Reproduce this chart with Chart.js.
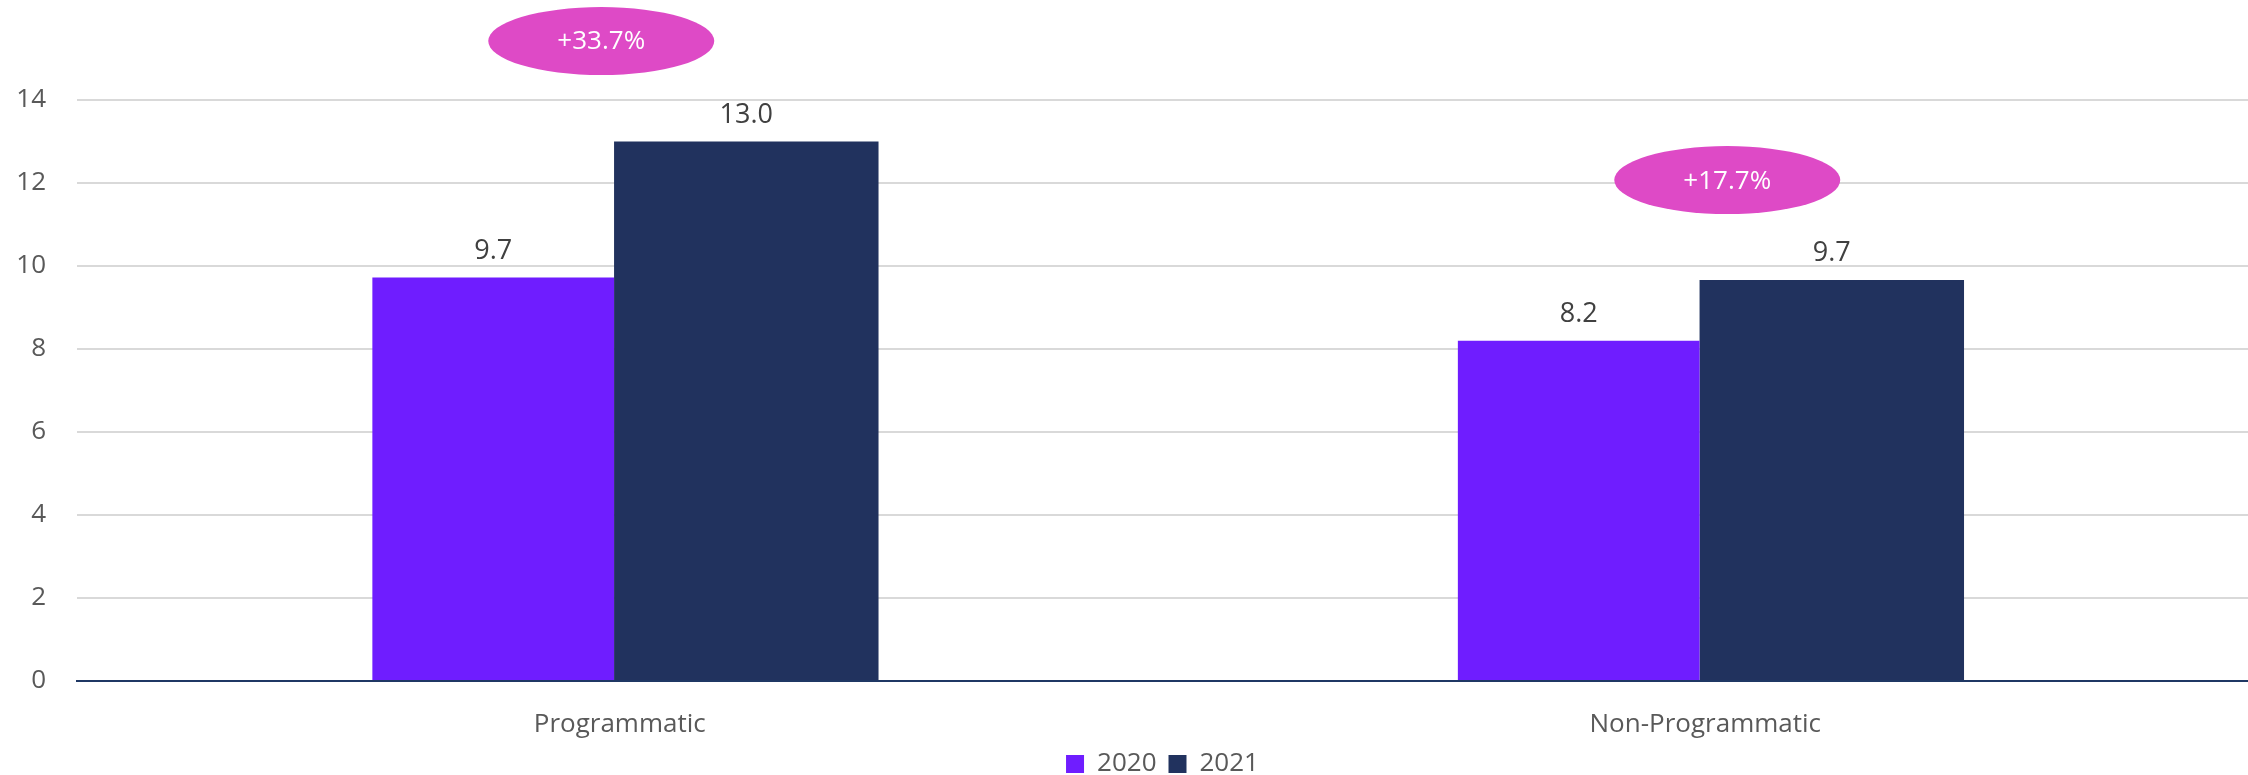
<!DOCTYPE html>
<html>
<head>
<meta charset="utf-8">
<script src="https://cdn.jsdelivr.net/npm/chart.js@4.4.1/dist/chart.umd.min.js"></script>
<style>
  html, body { margin: 0; padding: 0; background: #fff; }
  #wrap { width: 2248px; height: 775px; position: relative; }
</style>
</head>
<body>
<div id="wrap"><canvas id="myChart"></canvas></div>
<script>
// chart data
var categories = ['Programmatic', 'Non-Programmatic'];
var seriesNames = ['2020', '2021'];
var values2020 = [9.72, 8.2];
var values2021 = [13.0, 9.66];
var growthLabels = ['+33.7%', '+17.7%'];
var yTicks = [0, 2, 4, 6, 8, 10, 12, 14];

var FONT = "'Open Sans', 'Noto Sans', sans-serif";

// value labels above each bar
var valueLabels = {
  id: 'valueLabels',
  afterDatasetsDraw: function (chart) {
    var ctx = chart.ctx;
    ctx.save();
    ctx.font = '27px ' + FONT;
    ctx.fillStyle = '#404040';
    ctx.textAlign = 'center';
    ctx.textBaseline = 'alphabetic';
    chart.data.datasets.forEach(function (ds, i) {
      chart.getDatasetMeta(i).data.forEach(function (bar, j) {
        ctx.fillText(ds.data[j].toFixed(1), bar.x, bar.y - 19);
      });
    });
    ctx.restore();
  }
};

// pink growth bubbles
var growthBubbles = {
  id: 'growthBubbles',
  afterDraw: function (chart, args, opts) {
    var ctx = chart.ctx;
    var xs = chart.scales.x, ys = chart.scales.y;
    ctx.save();
    growthLabels.forEach(function (txt, i) {
      var cx = xs.getPixelForValue(i) + opts.dx[i];
      var cy = ys.getPixelForValue(opts.yAt[i]);
      ctx.beginPath();
      ctx.ellipse(cx, cy, opts.rx, opts.ry, 0, 0, Math.PI * 2);
      ctx.fillStyle = opts.color;
      ctx.fill();
      ctx.font = '26px ' + FONT;
      ctx.fillStyle = '#ffffff';
      ctx.textAlign = 'center';
      ctx.textBaseline = 'middle';
      ctx.fillText(txt, cx, cy + 1);
    });
    ctx.restore();
  }
};

var ctx = document.getElementById('myChart').getContext('2d');
var myChart = new Chart(ctx, {
  type: 'bar',
  data: {
    labels: categories,
    datasets: [{
      label: seriesNames[0],
      data: values2020,
      backgroundColor: '#6F1DFF',
      barPercentage: 0.955
    }, {
      label: seriesNames[1],
      data: values2021,
      backgroundColor: '#21325E',
      barPercentage: 1.045
    }]
  },
  options: {
    responsive: true,
    maintainAspectRatio: false,
    animation: false,
    layout: { padding: { top: 100, left: 16, right: 0, bottom: -12 } },
    categoryPercentage: 0.4663,
    plugins: {
      tooltip: { enabled: false },
      legend: {
        position: 'bottom',
        fullSize: false,
        labels: {
          font: { family: FONT, size: 26 },
          color: '#595959',
          boxWidth: 18,
          boxHeight: 18,
          padding: 12
        }
      },
      growthBubbles: { dx: [-18.5, 22], yAt: [15.42, 12.07], rx: 113, ry: 34, color: '#DE4AC6' }
    },
    scales: {
      x: {
        grid: { display: false, drawTicks: false },
        border: { display: true, color: '#1F3864', width: 2 },
        ticks: { font: { family: FONT, size: 26 }, color: '#595959', padding: 28 },
        afterFit: function (axis) { axis.height = 58; }
      },
      y: {
        min: 0,
        max: 14,
        afterBuildTicks: function (axis) {
          axis.ticks = yTicks.map(function (v) { return { value: v }; });
        },
        afterFit: function (axis) { axis.width = 61; },
        grid: {
          drawTicks: false,
          lineWidth: 2,
          color: function (c) { return c.tick && c.tick.value === 0 ? 'rgba(0,0,0,0)' : '#D9D9D9'; }
        },
        border: { display: false },
        ticks: { font: { family: FONT, size: 26 }, color: '#595959', padding: 31 }
      }
    }
  },
  plugins: [valueLabels, growthBubbles]
});
</script>
</body>
</html>
